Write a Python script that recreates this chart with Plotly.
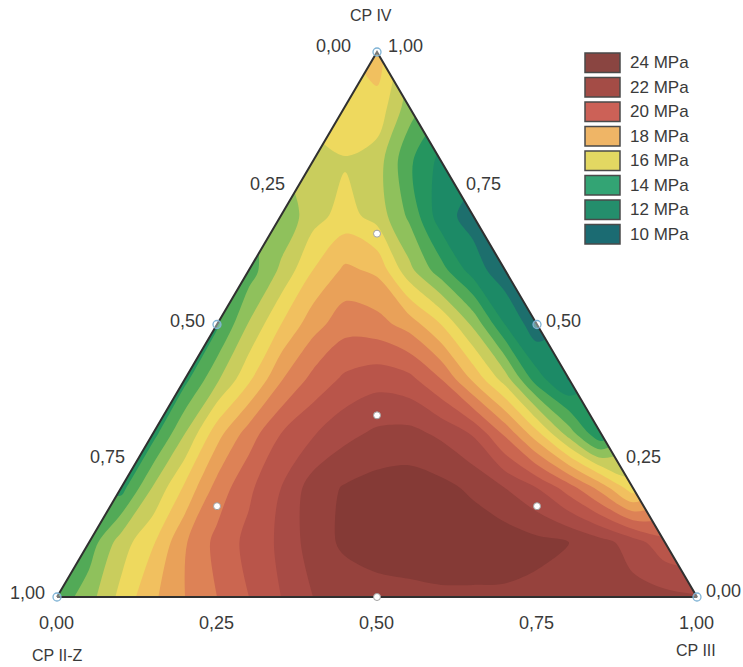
import plotly.graph_objects as go

# ---------------- data ----------------
# CP IV fraction of each row of the reading grid
cp4_levels = [0.0, 0.1, 0.2, 0.3, 0.4, 0.5, 0.6, 0.7, 0.8, 0.9, 1.0]
cp3_step = 0.05  # CP III step inside each row (CP III = 0, 0.05, ... , 1 - CP IV)

# strength (MPa) read along each CP IV level, CP III increasing
strength_cp4_00 = [13.3, 14.6, 16.3, 17.8, 19.0, 20.0, 21.0, 22.0, 23.0, 23.4, 23.6,
                   23.7, 23.8, 23.8, 23.8, 23.7, 23.6, 23.5, 23.4, 23.3, 23.1]
strength_cp4_01 = [13.4, 15.5, 16.9, 18.9, 20.3, 21.3, 22.2, 23.5, 24.2, 24.5, 24.6,
                   24.7, 24.7, 24.6, 24.3, 24.0, 23.4, 22.5, 21.3]
strength_cp4_02 = [12.6, 15.1, 17.2, 19.4, 20.8, 22.0, 23.5, 24.1, 24.4, 24.5, 24.3,
                   23.8, 23.0, 22.0, 20.5, 18.6, 16.4]
strength_cp4_03 = [12.6, 15.0, 17.6, 19.5, 21.0, 21.9, 22.7, 23.2, 23.3, 22.8, 21.9,
                   19.8, 17.3, 14.5, 12.1]
strength_cp4_04 = [12.7, 14.8, 16.8, 18.9, 20.3, 21.2, 21.6, 21.3, 20.0, 17.8, 15.5,
                   12.4, 10.9]
strength_cp4_05 = [12.8, 15.1, 17.0, 18.6, 19.6, 19.4, 18.6, 17.0, 14.8, 12.0, 10.35]
strength_cp4_06 = [13.5, 15.2, 17.0, 18.2, 17.8, 15.3, 13.4, 11.5, 10.35]
strength_cp4_07 = [14.2, 15.6, 16.4, 15.6, 13.8, 11.4, 10.6]
strength_cp4_08 = [15.9, 15.9, 15.5, 13.2, 11.7]
strength_cp4_09 = [17.0, 16.7, 14.5]
strength_cp4_10 = [17.5]
strength_rows = [strength_cp4_00, strength_cp4_01, strength_cp4_02, strength_cp4_03,
                 strength_cp4_04, strength_cp4_05, strength_cp4_06, strength_cp4_07,
                 strength_cp4_08, strength_cp4_09, strength_cp4_10]

# experimental points (white dots) and axis markers (open circles)
design_cp4 = [2 / 3, 1 / 3, 1 / 6, 1 / 6, 0.0]
design_cp3 = [1 / 6, 1 / 3, 1 / 6, 2 / 3, 0.5]
marker_cp4 = [1.0, 0.0, 0.0, 0.5, 0.5]
marker_cp3 = [0.0, 0.0, 1.0, 0.0, 0.5]

tick_values = [0.0, 0.25, 0.5, 0.75, 1.0]
tick_labels = ["0,00", "0,25", "0,50", "0,75", "1,00"]

legend_values = [24, 22, 20, 18, 16, 14, 12, 10]
legend_colors = ["#8a4541", "#a44c46", "#cc6157", "#efb566", "#e3d862",
                 "#33a474", "#248e6c", "#1b6b72"]

level_start, level_end, level_step = 11, 24, 1
band_colors = ["#1d6f6d", "#1c8a66", "#25955f", "#52aa57", "#8fc15c", "#c9cd5d",
               "#eed95e", "#f1c05f", "#e9a159", "#dd8256", "#cb6650", "#b9554a",
               "#a84b45", "#96423d", "#853a36"]

# ---------------- geometry ----------------
W, H = 743, 667
BX0, BX1, BASE_Y, APEX_Y = 57, 697, 597, 52   # pixel frame of the triangle
SX = BX1 - BX0
SY = BASE_Y - APEX_Y


def tern(cp4, cp3):
    return cp3 + cp4 / 2.0, cp4


xs, ys, zs = [], [], []
for a, row in zip(cp4_levels, strength_rows):
    for m, v in enumerate(row):
        x, y = tern(a, m * cp3_step)
        xs.append(round(x, 4))
        ys.append(round(y, 4))
        zs.append(v)

n = len(band_colors) - 1
colorscale = []
for j, c in enumerate(band_colors):
    colorscale.append([max(0.0, (j - 0.45) / n), c])
    colorscale.append([min(1.0, (j + 0.45) / n), c])

TEXT = "#3a3a3a"
FONT = "Liberation Sans, Arial, sans-serif"

fig = go.Figure()
fig.add_trace(go.Contour(
    x=xs, y=ys, z=zs, connectgaps=True, autocontour=False,
    contours=dict(start=level_start, end=level_end, size=level_step,
                  coloring="fill", showlines=False),
    line=dict(width=0, smoothing=0.9),
    colorscale=colorscale, showscale=False, hoverinfo="skip"))

# white masks outside the triangle
v_bl, v_br, v_top = tern(0, 0), tern(0, 1), tern(1, 0)
fig.add_trace(go.Scatter(
    x=[v_bl[0], v_top[0], v_top[0], -0.3, -0.3, v_bl[0]],
    y=[v_bl[1], v_top[1], 1.3, 1.3, v_bl[1], v_bl[1]],
    fill="toself", fillcolor="white", mode="lines", line=dict(width=0),
    hoverinfo="skip"))
fig.add_trace(go.Scatter(
    x=[v_br[0], v_top[0], v_top[0], 1.3, 1.3, v_br[0]],
    y=[v_br[1], v_top[1], 1.3, 1.3, v_br[1], v_br[1]],
    fill="toself", fillcolor="white", mode="lines", line=dict(width=0),
    hoverinfo="skip"))
fig.add_trace(go.Scatter(
    x=[-0.3, 1.3, 1.3, -0.3, -0.3], y=[0, 0, -0.3, -0.3, 0],
    fill="toself", fillcolor="white", mode="lines", line=dict(width=0),
    hoverinfo="skip"))

# triangle outline
fig.add_trace(go.Scatter(
    x=[v_bl[0], v_br[0], v_top[0], v_bl[0]], y=[v_bl[1], v_br[1], v_top[1], v_bl[1]],
    mode="lines", line=dict(color="#303030", width=2), hoverinfo="skip"))

# axis markers and design points
mx, my = zip(*[tern(a, c) for a, c in zip(marker_cp4, marker_cp3)])
fig.add_trace(go.Scatter(
    x=mx, y=my, mode="markers",
    marker=dict(symbol="circle", size=8, color="rgba(255,255,255,0.35)",
                line=dict(color="#7fb3d5", width=1.3)),
    hoverinfo="skip"))
dx, dy = zip(*[tern(a, c) for a, c in zip(design_cp4, design_cp3)])
fig.add_trace(go.Scatter(
    x=dx, y=dy, mode="markers",
    marker=dict(symbol="circle", size=7, color="white",
                line=dict(color="#a0a0a0", width=1)),
    hoverinfo="skip"))

annotations = []


def label(text, pos, xshift=0, yshift=0, xanchor="center", size=18):
    annotations.append(dict(
        x=pos[0], y=pos[1], xref="x", yref="y", text=text, showarrow=False,
        xanchor=xanchor, yanchor="middle", xshift=xshift, yshift=yshift,
        font=dict(family=FONT, size=size, color=TEXT)))


for t, lab in zip(tick_values, tick_labels):
    # CP II-Z scale along the left edge
    p = tern(1 - t, 0)
    label(lab, p, xshift=-24 if t == 0 else -10, yshift=6 if t == 0 else 4,
          xanchor="right")
    # CP IV scale along the right edge
    p = tern(t, 1 - t)
    label(lab, p, xshift=9 if t == 1 else 7, yshift=6 if t in (0, 1) else 4,
          xanchor="left")
    # CP III scale along the base
    p = tern(0, t)
    label(lab, p, xshift=-1, yshift=-26)

label("CP IV", v_top, xshift=-6, yshift=37, size=16)
label("CP II-Z", v_bl, xshift=0, yshift=-58, size=16)
label("CP III", v_br, xshift=-1, yshift=-53, size=16)

shapes = []
for i, (val, col) in enumerate(zip(legend_values, legend_colors)):
    top = 53 + 24.5 * i
    shapes.append(dict(type="rect", xref="paper", yref="paper",
                       x0=585 / W, x1=620 / W, y0=1 - (top + 19.5) / H, y1=1 - top / H,
                       fillcolor=col, line=dict(color="#4a4a4a", width=1.5)))
    annotations.append(dict(x=628 / W, y=1 - (top + 9.8) / H, xref="paper", yref="paper",
                            text=f"{val} MPa", showarrow=False, xanchor="left",
                            yanchor="middle",
                            font=dict(family=FONT, size=17, color=TEXT)))

fig.update_layout(
    width=W, height=H, margin=dict(l=0, r=0, t=0, b=0, pad=0),
    paper_bgcolor="white", plot_bgcolor="white", showlegend=False,
    hovermode=False,
    xaxis=dict(visible=False, range=[-BX0 / SX, (W - BX0) / SX], fixedrange=True),
    yaxis=dict(visible=False, range=[(BASE_Y - H) / SY, BASE_Y / SY], fixedrange=True),
    annotations=annotations, shapes=shapes)

fig.write_html("out.html")
